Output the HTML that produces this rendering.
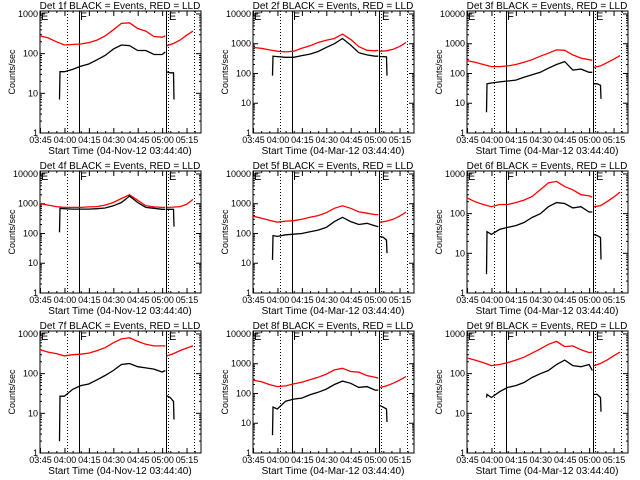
<!DOCTYPE html>
<html><head><meta charset="utf-8"><style>
html,body{margin:0;padding:0;background:#fff;}
svg{display:block;font-family:"Liberation Sans",sans-serif;}
</style></head><body>
<svg id="chart" width="640" height="480" viewBox="0 0 640 480" xmlns="http://www.w3.org/2000/svg"></svg>
<script>
const detNames = ["1f","2f","3f","4f","5f","6f","7f","8f","9f"];
const dateLabels = ["04-Nov-12","04-Mar-12","04-Mar-12","04-Nov-12","04-Mar-12","04-Mar-12","04-Nov-12","04-Mar-12","04-Mar-12"];
const yMaxDecade = [3,4,4,4,4,3,3,4,3];
const xTickLabels = ["03:45","04:00","04:15","04:30","04:45","05:00","05:15"];
const xTickMinutes = [0.33,15.33,30.33,45.33,60.33,75.33,90.33];
const redTimes = [0,5,10,15,20,25,30,35,40,45,50,55,60,65,70,75,77];
const red2Times = [78,82,86,90,94];
const blackTimes = [12,12.3,15,20,25,30,35,40,45,50,55,60,65,70,75,77];
const black2Times = [77.6,80,82,82.3];
const markerMinutes = [16.5,24,77.3,78.6,94.5];
const redVals = [
 [280,250,200,165,170,175,190,220,280,400,580,600,430,370,270,260,280],
 [750,700,620,560,530,560,700,850,1100,1300,1500,2100,1400,800,600,580,600],
 [270,240,200,170,170,180,200,240,290,380,480,620,600,420,330,290,280],
 [1000,900,800,750,750,750,780,800,900,1100,1500,2000,1300,850,780,750,750],
 [380,330,280,240,260,270,300,350,400,500,700,850,700,530,480,430,430],
 [250,200,170,150,170,170,190,220,270,400,600,650,480,400,300,280,260],
 [400,350,320,280,300,310,330,380,450,600,750,800,650,550,500,500,500],
 [280,250,200,170,180,210,240,290,350,450,620,700,550,520,400,350,330],
 [250,220,190,160,170,190,220,260,330,420,550,650,480,500,400,340,350]];
const red2Vals = [
 [160,180,220,290,370],[560,580,650,800,1100],[160,180,230,300,400],
 [750,770,800,950,1400],[240,260,300,380,520],[150,160,200,260,350],
 [280,320,380,440,500],[160,180,220,280,370],[160,180,220,280,350]];
const blackVals = [
 [7,35,35,40,48,55,70,90,130,165,160,120,120,95,95,110],
 [85,380,370,350,350,400,450,550,750,1000,1500,900,500,420,380,380],
 [5,45,48,52,56,60,75,90,110,150,200,250,130,140,110,110],
 [110,700,680,660,660,660,680,720,850,1100,1800,1100,750,700,650,650],
 [13,85,80,90,95,100,115,130,160,250,350,250,200,220,180,170],
 [3,35,30,40,45,50,60,80,100,150,190,180,140,150,110,110],
 [2,27,27,40,50,55,70,90,120,170,180,150,140,130,110,120],
 [4,35,30,55,65,70,90,110,140,200,260,220,160,170,130,130],
 [25,30,25,35,45,50,60,80,100,120,170,220,160,150,170,120]];
const black2Vals = [
 [35,33,33,7],[370,370,360,85],[45,45,40,14],[650,650,650,170],[80,75,60,22],
 [30,28,25,7],[28,25,20,7],[40,35,30,11],[30,30,25,11]];

const svg = document.getElementById('chart');
const NS = "http://www.w3.org/2000/svg";
function mk(tag, attrs, parent){const e=document.createElementNS(NS,tag);for(const k in attrs)e.setAttribute(k,attrs[k]);parent.appendChild(e);return e;}
const XMAX = 98.9, BW = 161, BH = 122;

for(let p=0;p<9;p++){
  const ox=[0,213,427][p%3], oy=[0,160,320][Math.floor(p/3)];
  const L=ox+40, T=oy+11, R=L+BW, B=T+BH;
  const dec=yMaxDecade[p];
  const topLog = dec===4 ? 4.1 : 3.075;
  const xs = t => L + t/XMAX*BW;
  const ys = v => B - Math.log10(Math.max(v,1))/topLog*BH;
  const g = mk('g',{},svg);
  
  
  const title = mk('text',{x:L+80,y:oy+9,'font-size':10,'text-anchor':'middle'},g);
  
  
  title.textContent='Det '+detNames[p]+' BLACK = Events, RED = LLD';
  const box = mk('rect',{x:L,y:T,width:BW,height:BH,fill:'none',stroke:'#000','stroke-width':1},g);
  
  
  // y ticks
  for(let d=0; d<=dec; d++){
    const v=Math.pow(10,d), y=ys(v);
    mk('line',{x1:L,y1:y,x2:L+5,y2:y,stroke:'#000'},g);
    mk('line',{x1:R,y1:y,x2:R-5,y2:y,stroke:'#000'},g);
    const lb=mk('text',{x:L-2,y:y+3,'font-size':9,'text-anchor':'end'},g);
    
    
    lb.textContent=String(v);
    if(d<dec||dec===3){
      for(let m=2;m<10;m++){const ym=ys(v*m); if(ym<T) break;
        mk('line',{x1:L,y1:ym,x2:L+2,y2:ym,stroke:'#000'},g);
        mk('line',{x1:R,y1:ym,x2:R-2,y2:ym,stroke:'#000'},g);}
    }
  }
  // x ticks
  xTickMinutes.forEach((t,i)=>{
    const x=xs(t);
    mk('line',{x1:x,y1:B,x2:x,y2:B-5,stroke:'#000'},g);
    mk('line',{x1:x,y1:T,x2:x,y2:T+5,stroke:'#000'},g);
    for(let k=1;k<3;k++){const xm=xs(t+5*k); if(xm<R){
      mk('line',{x1:xm,y1:B,x2:xm,y2:B-2,stroke:'#000'},g);
      mk('line',{x1:xm,y1:T,x2:xm,y2:T+2,stroke:'#000'},g);}}
    const lb=mk('text',{x:x,y:B+10,'font-size':9,'text-anchor':'middle'},g);
    
    
    lb.textContent=xTickLabels[i];
  });
  const xt=mk('text',{x:L+80,y:B+21,'font-size':10,'text-anchor':'middle'},g);
  
  
  xt.textContent='Start Time ('+dateLabels[p]+' 03:44:40)';
  const yt=mk('text',{x:ox+15,y:oy+72,'font-size':9,'text-anchor':'middle',transform:'rotate(-90 '+(ox+15)+' '+(oy+72)+')'},g);
  
  
  yt.textContent='Counts/sec';
  // vertical markers
  markerMinutes.forEach((t,i)=>{
    const x=Math.round(xs(t))+0.5;
    const dotted = (i===0||i===3||i===4);
    const ln=mk('line',{x1:x,y1:T,x2:x,y2:B,stroke:'#000','stroke-width':1},g);
    if(dotted) ln.setAttribute('stroke-dasharray','1,2');
    
    
  });
  [[L+1,'E'],[xs(24)+1,'F'],[xs(78.6)+1,'E']].forEach(([x,s])=>{
    const m=mk('text',{x:x,y:T+9,'font-size':11},g);
    
    
    m.textContent=s;
  });
  function series(ts,vs,color,name){
    const pts=ts.map((t,i)=>xs(t).toFixed(1)+','+ys(vs[i]).toFixed(1)).join(' ');
    const pl=mk('polyline',{points:pts,fill:'none',stroke:color,'stroke-width':1.3},g);
    
    
  }
  series(redTimes,redVals[p],'#ff0000','lld-series');
  series(red2Times,red2Vals[p],'#ff0000','lld-series-2');
  series(blackTimes,blackVals[p],'#000000','events-series');
  series(black2Times,black2Vals[p],'#000000','events-series-2');
}
</script>
</body></html>
